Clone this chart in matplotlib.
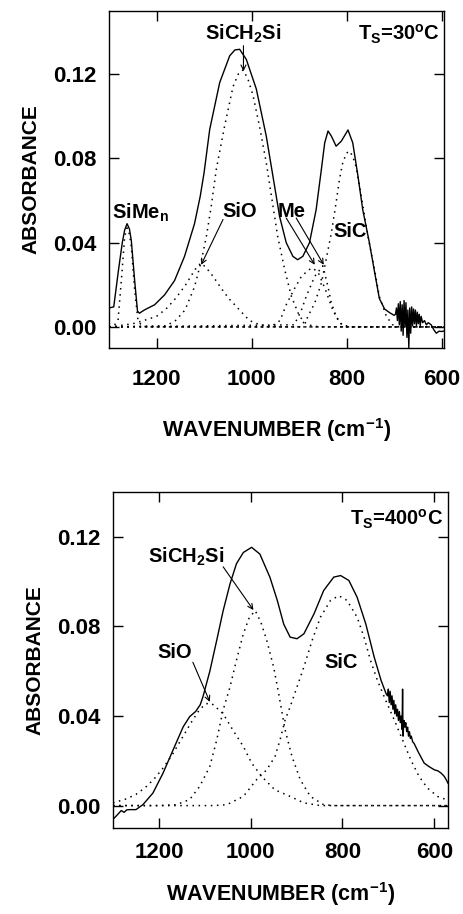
import matplotlib.pyplot as plt

plt.rcParams['font.family'] = 'Liberation Sans'
plt.rcParams['font.weight'] = 'bold'
plt.rcParams['mathtext.fontset'] = 'custom'
plt.rcParams['mathtext.rm'] = 'Liberation Sans:bold'
plt.rcParams['mathtext.it'] = 'Liberation Sans:bold'
plt.rcParams['mathtext.bf'] = 'Liberation Sans:bold'

# ---- Ts = 30 C : measured spectrum ----
t30_wn = [1300, 1290, 1280, 1272, 1267, 1262, 1257, 1253, 1246, 1240, 1236,
          1225, 1204, 1183, 1162, 1141, 1120, 1108, 1100, 1088, 1067, 1046,
          1035, 1025, 1011, 990, 969, 955, 941, 927, 913, 903, 892, 878, 864,
          853, 846, 839, 832, 822, 811, 797, 787, 776, 766, 752, 741, 731,
          720, 709, 700,
          697, 695, 693, 691, 689, 687, 685, 683, 681, 679, 677, 675, 673,
          671, 669, 667, 665, 663, 661, 659, 657, 655, 653, 651, 649, 647,
          645, 643, 640, 636, 632, 628, 622, 616, 611, 605, 600, 596]
t30_abs = [0.0090, 0.0095, 0.0270, 0.0400, 0.0460, 0.0490, 0.0465, 0.0410,
           0.0220, 0.0075, 0.0065, 0.0081, 0.0105, 0.0152, 0.0220, 0.0335,
           0.0490, 0.0620, 0.0730, 0.0938, 0.1160, 0.1287, 0.1315, 0.1318,
           0.1270, 0.1130, 0.0906, 0.0716, 0.0525, 0.0400, 0.0335, 0.0319,
           0.0335, 0.0400, 0.0557, 0.0748, 0.0874, 0.0930, 0.0906, 0.0858,
           0.0882, 0.0935, 0.0874, 0.0716, 0.0557, 0.0400, 0.0260, 0.0135,
           0.0085, 0.0067, 0.0055,
           0.0060, 0.0090, 0.0030, 0.0110, 0.0010, 0.0120, -0.0020, 0.0105,
           -0.0040, 0.0125, 0.0000, 0.0115, -0.0050, 0.0080, -0.0100, 0.0090,
           -0.0030, 0.0095, 0.0005, 0.0085, 0.0015, 0.0080, 0.0005, 0.0070,
           0.0015, 0.0060, 0.0005, 0.0050, 0.0020, 0.0030, 0.0010, 0.0020,
           0.0010, -0.0015, -0.0030, -0.0020, -0.0022, -0.0020]

# ---- Ts = 30 C : fitted components ----
t30_simen_wn = [1300, 1290, 1281, 1274, 1267, 1262, 1257, 1253, 1246, 1239, 1230, 1220, 595]
t30_simen_abs = [0, 0.0005, 0.003, 0.022, 0.043, 0.047, 0.044, 0.038, 0.0176, 0.003, 0.0003, 0, 0]

t30_sio_wn = [1300, 1250, 1220, 1200, 1180, 1160, 1140, 1125, 1115, 1106, 1095,
              1081, 1064, 1048, 1032, 1015, 1004, 985, 960, 940, 595]
t30_sio_abs = [0, 0.0015, 0.0035, 0.005, 0.0085, 0.0135, 0.0195, 0.025, 0.0285,
               0.0303, 0.028, 0.024, 0.0184, 0.0135, 0.0097, 0.0055, 0.003,
               0.0012, 0.0003, 0, 0]

t30_sich2si_wn = [1300, 1180, 1160, 1140, 1120, 1105, 1095, 1085, 1074, 1057, 1039,
                  1028, 1018, 1008, 997, 983, 969, 958, 945, 930, 916, 899, 885,
                  870, 850, 595]
t30_sich2si_abs = [0, 0.0005, 0.003, 0.008, 0.019, 0.032, 0.043, 0.057, 0.075,
                   0.095, 0.114, 0.120, 0.122, 0.118, 0.110, 0.095, 0.078, 0.062,
                   0.043, 0.027, 0.0144, 0.005, 0.0015, 0.0003, 0, 0]

t30_me1_wn = [1300, 960, 940, 927, 910, 895, 880, 872, 860, 845, 829, 815, 800, 595]
t30_me1_abs = [0, 0, 0.003, 0.0105, 0.018, 0.024, 0.027, 0.028, 0.026, 0.018, 0.008, 0.002, 0, 0]

t30_me2_wn = [1300, 910, 895, 885, 867, 850, 839, 832, 822, 810, 790, 595]
t30_me2_abs = [0, 0.001, 0.008, 0.0144, 0.024, 0.029, 0.019, 0.0113, 0.005, 0.001, 0, 0]

t30_sic_wn = [1300, 900, 885, 867, 853, 843, 832, 822, 815, 808, 800, 794, 787,
              780, 769, 755, 741, 731, 716, 703, 690, 595]
t30_sic_abs = [0, 0, 0.0033, 0.0113, 0.0208, 0.032, 0.0446, 0.059, 0.070, 0.078,
               0.0825, 0.0835, 0.081, 0.076, 0.062, 0.043, 0.027, 0.0144, 0.0049,
               0.001, 0, 0]

# ---- Ts = 400 C : measured spectrum ----
t400_wn = [1300, 1297, 1290, 1282, 1276, 1270, 1264, 1250, 1235, 1213, 1191,
           1169, 1147, 1133, 1120, 1110, 1104, 1089, 1074, 1060, 1045, 1031,
           1016, 998, 980, 958, 942, 928, 914, 899, 884, 862, 841, 819, 804,
           786, 768, 749, 731, 716, 705,
           702, 700, 698, 696, 694, 692, 690, 688, 686, 684, 682, 680, 678,
           676, 674, 672, 670, 669, 668, 666, 664, 662, 660, 658, 656, 654,
           652, 650, 647, 644, 635, 622, 612, 600, 592, 585, 578, 574, 570]
t400_abs = [-0.0060, -0.0055, -0.0040, -0.0022, -0.0030, -0.0019, -0.0018,
            -0.0018, 0.0004, 0.0056, 0.0145, 0.0249, 0.0352, 0.0397, 0.0420,
            0.0450, 0.0486, 0.0600, 0.0738, 0.0870, 0.0990, 0.1080, 0.1130,
            0.1153, 0.1123, 0.1019, 0.0916, 0.0810, 0.0752, 0.0745, 0.0767,
            0.0856, 0.0960, 0.1020, 0.1027, 0.1005, 0.0930, 0.0810, 0.0664,
            0.0560, 0.0500,
            0.0490, 0.0520, 0.0460, 0.0510, 0.0450, 0.0490, 0.0430, 0.0470,
            0.0410, 0.0450, 0.0400, 0.0430, 0.0380, 0.0420, 0.0370, 0.0400,
            0.0340, 0.0520, 0.0310, 0.0380, 0.0350, 0.0370, 0.0330, 0.0350,
            0.0310, 0.0330, 0.0300, 0.0310, 0.0285, 0.0278, 0.0240, 0.0190,
            0.0175, 0.0160, 0.0155, 0.0145, 0.0130, 0.0116, 0.0100]

# ---- Ts = 400 C : fitted components ----
t400_sio_wn = [1300, 1271, 1250, 1230, 1210, 1190, 1170, 1150, 1130, 1111, 1097,
               1085, 1060, 1039, 1016, 998, 976, 947, 914, 884, 848, 570]
t400_sio_abs = [0.0012, 0.003, 0.005, 0.008, 0.012, 0.017, 0.023, 0.030, 0.037,
                0.043, 0.0455, 0.0456, 0.041, 0.0338, 0.0264, 0.019, 0.013,
                0.007, 0.0041, 0.0012, 0, 0]

t400_sich2si_wn = [1300, 1200, 1162, 1133, 1111, 1089, 1074, 1060, 1045, 1031,
                   1016, 1003, 990, 978, 965, 950, 939, 925, 910, 892, 870, 841,
                   820, 570]
t400_sich2si_abs = [0, 0, 0.0004, 0.0027, 0.0086, 0.0175, 0.0293, 0.0427, 0.053,
                    0.0649, 0.0767, 0.084, 0.087, 0.082, 0.0738, 0.0619, 0.050,
                    0.0338, 0.0219, 0.0116, 0.0041, 0.0004, 0, 0]

t400_sic_wn = [1300, 1080, 1052, 1016, 987, 965, 947, 936, 925, 914, 899, 884,
               866, 848, 826, 808, 790, 768, 753, 739, 724, 706, 687, 669, 651,
               633, 615, 593, 574, 570]
t400_sic_abs = [0, 0, 0.0004, 0.0041, 0.0116, 0.016, 0.0219, 0.0293, 0.0382,
                0.0441, 0.053, 0.0619, 0.0738, 0.0841, 0.0916, 0.0937, 0.0916,
                0.0841, 0.0752, 0.0649, 0.056, 0.0471, 0.0382, 0.0293, 0.0204,
                0.013, 0.0079, 0.0041, 0.0027, 0.0025]

x_ticks = [1200, 1000, 800, 600]
y_ticks = [0.00, 0.04, 0.08, 0.12]

DOT = (0, (1, 3))
ARROW = dict(arrowstyle='->', lw=0.8, color='black', shrinkA=0, shrinkB=0,
             mutation_scale=9)
LABEL_FS = 14.5


def style_axes(ax, xlim, ylim, xpad, xlabelpad):
    ax.set_xlim(*xlim)
    ax.set_ylim(*ylim)
    ax.set_xticks(x_ticks)
    ax.set_yticks(y_ticks)
    ax.set_yticklabels([f'{v:.2f}' for v in y_ticks])
    ax.tick_params(direction='in', length=7, width=1, top=True, right=True,
                   labelsize=16)
    ax.tick_params(axis='x', pad=xpad)
    ax.tick_params(axis='y', pad=9)
    for lab in ax.get_xticklabels() + ax.get_yticklabels():
        lab.set_fontweight('bold')
    for sp in ax.spines.values():
        sp.set_linewidth(1.0)
    ax.set_xlabel('WAVENUMBER (cm$^{-1}$)', fontsize=15.5, fontweight='bold',
                  labelpad=xlabelpad)
    ax.set_ylabel('ABSORBANCE', fontsize=15, fontweight='bold', labelpad=9)


fig = plt.figure(figsize=(4.63, 9.14), dpi=100)

# top panel
ax1 = fig.add_axes([0.2354, 0.6193, 0.7235, 0.3687])
for wn, ab in [(t30_simen_wn, t30_simen_abs), (t30_sio_wn, t30_sio_abs),
               (t30_sich2si_wn, t30_sich2si_abs), (t30_me1_wn, t30_me1_abs),
               (t30_me2_wn, t30_me2_abs), (t30_sic_wn, t30_sic_abs)]:
    ax1.plot(wn, ab, color='black', lw=1.1, linestyle=DOT)
ax1.plot(t30_wn, t30_abs, color='black', lw=1.0)
style_axes(ax1, (1300, 595), (-0.01, 0.15), xpad=15, xlabelpad=19)

ax1.text(1017, 0.1362, 'SiCH$_2$Si', ha='center', va='baseline', fontsize=LABEL_FS)
ax1.annotate('', xy=(1017, 0.1214), xytext=(1017, 0.1335), arrowprops=ARROW)
ax1.text(0.988, 0.914, 'T$_S$=30$^o$C', transform=ax1.transAxes,
         ha='right', va='baseline', fontsize=LABEL_FS)
ax1.text(1293, 0.0514, 'SiMe$_n$', ha='left', va='baseline', fontsize=LABEL_FS)
ax1.text(1025, 0.0524, 'SiO', ha='center', va='baseline', fontsize=LABEL_FS)
ax1.annotate('', xy=(1106, 0.0295), xytext=(1060, 0.051), arrowprops=ARROW)
ax1.text(915, 0.0524, 'Me', ha='center', va='baseline', fontsize=LABEL_FS)
ax1.annotate('', xy=(867, 0.0295), xytext=(927, 0.0517), arrowprops=ARROW)
ax1.annotate('', xy=(848, 0.0295), xytext=(906, 0.0517), arrowprops=ARROW)
ax1.text(792, 0.0429, 'SiC', ha='center', va='baseline', fontsize=LABEL_FS)

# bottom panel
ax2 = fig.add_axes([0.2441, 0.0941, 0.7235, 0.3676])
for wn, ab in [(t400_sio_wn, t400_sio_abs), (t400_sich2si_wn, t400_sich2si_abs),
               (t400_sic_wn, t400_sic_abs)]:
    ax2.plot(wn, ab, color='black', lw=1.1, linestyle=DOT)
ax2.plot(t400_wn, t400_abs, color='black', lw=1.0)
style_axes(ax2, (1300, 570), (-0.01, 0.14), xpad=10, xlabelpad=12.5)

ax2.text(0.985, 0.902, 'T$_S$=400$^o$C', transform=ax2.transAxes,
         ha='right', va='baseline', fontsize=LABEL_FS)
ax2.text(1140, 0.1084, 'SiCH$_2$Si', ha='center', va='baseline', fontsize=LABEL_FS)
ax2.annotate('', xy=(994, 0.0873), xytext=(1060, 0.1066), arrowprops=ARROW)
ax2.text(1166, 0.0657, 'SiO', ha='center', va='baseline', fontsize=LABEL_FS)
ax2.annotate('', xy=(1089, 0.0463), xytext=(1126, 0.064), arrowprops=ARROW)
ax2.text(804, 0.0613, 'SiC', ha='center', va='baseline', fontsize=LABEL_FS)

fig.savefig('out.png', dpi=100)
